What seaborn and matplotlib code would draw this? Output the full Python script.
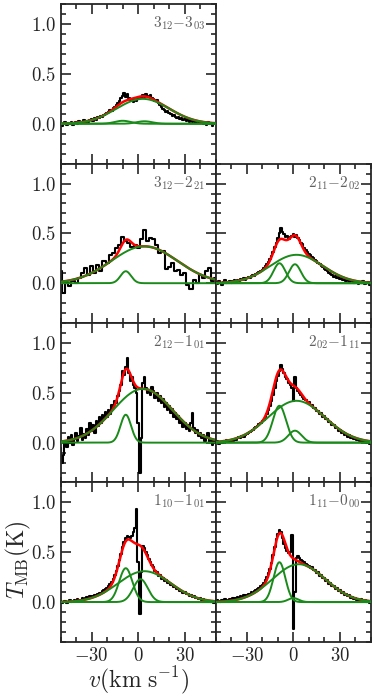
import numpy as np
import pandas as pd
import seaborn as sns
import matplotlib.pyplot as plt
from matplotlib.ticker import MultipleLocator

# Channel velocities (km/s): 1 km/s channels, the 3_12-2_21 line is binned to 2 km/s
velocity = np.arange(-50, 51, 1)
velocity_binned = np.arange(-50, 51, 2)

# Observed spectra T_MB (K), one value per channel
spec_312_303 = [0.01, -0.02, 0.00, 0.02, -0.01, 0.01, 0.00, 0.02, -0.01, 0.01,
                0.02, 0.00, 0.03, 0.01, 0.02, 0.04, 0.01, 0.03, 0.02, 0.04,
                0.05, 0.03, 0.06, 0.04, 0.07, 0.06, 0.08, 0.07, 0.09, 0.10,
                0.11, 0.12, 0.14, 0.13, 0.16, 0.17, 0.19, 0.21, 0.23, 0.26,
                0.28, 0.31, 0.27, 0.30, 0.26, 0.24, 0.25, 0.22, 0.24, 0.23,
                0.25, 0.27, 0.26, 0.29, 0.27, 0.30, 0.28, 0.27, 0.29, 0.26,
                0.25, 0.23, 0.24, 0.21, 0.19, 0.17, 0.15, 0.14, 0.12, 0.13,
                0.11, 0.10, 0.08, 0.09, 0.07, 0.06, 0.07, 0.05, 0.06, 0.04,
                0.05, 0.03, 0.05, 0.02, 0.04, 0.02, 0.03, 0.01, 0.03, 0.02,
                0.01, 0.02, 0.00, 0.01, -0.01, 0.02, 0.00, 0.01, -0.02, 0.01,
                0.00]
spec_312_221 = [0.12, -0.10, 0.00, -0.03, 0.02, 0.00, 0.05, 0.10, 0.15, 0.08,
                0.17, 0.10, 0.18, 0.12, 0.22, 0.20, 0.28, 0.30, 0.35, 0.38,
                0.46, 0.42, 0.40, 0.36, 0.38, 0.35, 0.44, 0.53, 0.42, 0.45,
                0.44, 0.38, 0.30, 0.32, 0.14, 0.16, 0.20, 0.12, 0.13, 0.08,
                0.10, -0.02, -0.06, 0.03, 0.00, 0.08, 0.05, 0.12, 0.15, 0.02,
                0.05]
spec_211_202 = [0.01, -0.01, 0.02, 0.00, -0.02, 0.01, 0.03, 0.00, 0.01, 0.02,
                0.00, 0.02, 0.03, 0.01, 0.03, 0.02, 0.04, 0.03, 0.05, 0.03,
                0.05, 0.06, 0.05, 0.07, 0.08, 0.07, 0.09, 0.10, 0.11, 0.12,
                0.13, 0.15, 0.17, 0.19, 0.21, 0.24, 0.27, 0.31, 0.36, 0.40,
                0.45, 0.50, 0.55, 0.51, 0.49, 0.46, 0.47, 0.44, 0.46, 0.47,
                0.49, 0.46, 0.48, 0.45, 0.43, 0.40, 0.39, 0.35, 0.33, 0.31,
                0.29, 0.28, 0.26, 0.25, 0.23, 0.22, 0.20, 0.19, 0.17, 0.16,
                0.14, 0.13, 0.12, 0.10, 0.09, 0.08, 0.06, 0.07, 0.05, 0.06,
                0.04, 0.05, 0.03, 0.04, 0.02, 0.03, 0.01, 0.03, 0.02, 0.00,
                0.02, 0.01, -0.01, 0.01, 0.00, 0.02, -0.01, 0.00, 0.01, -0.02,
                0.00]
spec_212_101 = [-0.05, -0.20, -0.12, 0.02, -0.04, 0.06, 0.00, 0.08, -0.02, 0.04,
                0.10, 0.02, 0.07, 0.15, 0.03, 0.09, 0.05, 0.14, 0.08, 0.20,
                0.12, 0.18, 0.10, 0.22, 0.17, 0.26, 0.20, 0.28, 0.24, 0.31,
                0.26, 0.33, 0.29, 0.38, 0.35, 0.42, 0.40, 0.47, 0.52, 0.58,
                0.72, 0.68, 0.76, 0.85, 0.70, 0.62, 0.66, 0.58, 0.55, 0.50,
                0.20, -0.30, 0.05, 0.60, 0.66, 0.55, 0.50, 0.53, 0.48, 0.56,
                0.52, 0.45, 0.50, 0.42, 0.47, 0.40, 0.44, 0.36, 0.40, 0.33,
                0.37, 0.30, 0.34, 0.26, 0.30, 0.24, 0.27, 0.20, 0.23, 0.16,
                0.20, 0.14, 0.18, 0.12, 0.20, 0.30, 0.15, 0.10, 0.13, 0.07,
                0.10, 0.05, 0.08, 0.02, 0.06, 0.10, 0.01, 0.04, -0.02, 0.03,
                0.00]
spec_202_111 = [0.00, 0.02, -0.01, 0.01, 0.00, 0.02, 0.01, 0.03, 0.02, 0.01,
                0.03, 0.02, 0.04, 0.03, 0.05, 0.06, 0.05, 0.07, 0.06, 0.08,
                0.09, 0.10, 0.11, 0.12, 0.13, 0.15, 0.16, 0.17, 0.19, 0.20,
                0.22, 0.23, 0.26, 0.29, 0.33, 0.37, 0.42, 0.48, 0.55, 0.62,
                0.67, 0.72, 0.78, 0.74, 0.70, 0.66, 0.64, 0.60, 0.58, 0.55,
                0.42, 0.66, 0.55, 0.52, 0.50, 0.48, 0.46, 0.44, 0.43, 0.41,
                0.41, 0.38, 0.38, 0.35, 0.35, 0.32, 0.32, 0.29, 0.30, 0.26,
                0.27, 0.24, 0.24, 0.21, 0.21, 0.18, 0.18, 0.15, 0.15, 0.12,
                0.13, 0.10, 0.11, 0.08, 0.09, 0.06, 0.08, 0.05, 0.06, 0.04,
                0.05, 0.03, 0.04, 0.02, 0.03, 0.01, 0.02, 0.00, 0.01, -0.01,
                0.00]
spec_110_101 = [0.01, -0.01, 0.00, 0.01, -0.01, 0.00, 0.02, 0.00, 0.01, 0.02,
                0.01, 0.03, 0.02, 0.02, 0.04, 0.03, 0.04, 0.05, 0.04, 0.06,
                0.05, 0.06, 0.07, 0.07, 0.08, 0.09, 0.09, 0.11, 0.12, 0.13,
                0.14, 0.16, 0.18, 0.20, 0.23, 0.27, 0.31, 0.36, 0.42, 0.48,
                0.55, 0.60, 0.64, 0.66, 0.65, 0.64, 0.66, 0.70, 0.74, 0.93,
                0.40, -0.12, 0.30, 0.56, 0.54, 0.50, 0.47, 0.43, 0.40, 0.37,
                0.35, 0.31, 0.30, 0.26, 0.27, 0.23, 0.24, 0.21, 0.22, 0.19,
                0.19, 0.17, 0.17, 0.15, 0.15, 0.13, 0.13, 0.11, 0.11, 0.09,
                0.10, 0.08, 0.08, 0.06, 0.07, 0.05, 0.06, 0.04, 0.04, 0.03,
                0.04, 0.02, 0.03, 0.01, 0.02, 0.01, 0.01, 0.00, 0.01, -0.01,
                0.00]
spec_111_000 = [0.00, 0.02, 0.01, 0.00, 0.02, 0.01, 0.03, 0.02, 0.01, 0.03,
                0.02, 0.04, 0.03, 0.04, 0.05, 0.04, 0.06, 0.05, 0.07, 0.06,
                0.07, 0.08, 0.08, 0.10, 0.09, 0.11, 0.12, 0.13, 0.14, 0.16,
                0.17, 0.19, 0.22, 0.25, 0.29, 0.33, 0.39, 0.47, 0.55, 0.63,
                0.68, 0.72, 0.70, 0.64, 0.58, 0.54, 0.51, 0.49, 0.50, 0.67,
                -0.27, 0.10, 0.44, 0.46, 0.44, 0.42, 0.41, 0.40, 0.38, 0.37,
                0.36, 0.34, 0.35, 0.32, 0.32, 0.29, 0.30, 0.26, 0.27, 0.24,
                0.24, 0.21, 0.22, 0.18, 0.19, 0.16, 0.16, 0.13, 0.14, 0.11,
                0.12, 0.09, 0.10, 0.07, 0.08, 0.06, 0.07, 0.04, 0.05, 0.03,
                0.04, 0.02, 0.03, 0.01, 0.03, 0.01, 0.02, 0.00, 0.01, -0.01,
                0.00]

# Fitted Gaussian components: (peak K, centre km/s, FWHM km/s)
comp_312_303 = [(0.25, 3, 40), (0.03, -10, 12), (0.025, 4, 12)]
comp_312_221 = [(0.37, 4, 50), (0.12, -8, 8)]
comp_211_202 = [(0.285, 2, 40), (0.20, -9, 9), (0.19, 1, 9)]
comp_212_101 = [(0.54, 3, 45), (0.28, -8, 8)]
comp_202_111 = [(0.42, 2, 43), (0.37, -9, 10), (0.12, 1, 10)]
comp_110_101 = [(0.34, -8, 10), (0.31, 4, 40), (0.23, 1.5, 11)]
comp_111_000 = [(0.40, -9, 9), (0.38, 3.5, 40), (0.04, 0, 8)]

labels = [r"$3_{12}{-}3_{03}$", r"$3_{12}{-}2_{21}$", r"$2_{11}{-}2_{02}$",
          r"$2_{12}{-}1_{01}$", r"$2_{02}{-}1_{11}$", r"$1_{10}{-}1_{01}$",
          r"$1_{11}{-}0_{00}$"]
spectra = [spec_312_303, spec_312_221, spec_211_202, spec_212_101,
           spec_202_111, spec_110_101, spec_111_000]
channels = [velocity, velocity_binned, velocity, velocity,
            velocity, velocity, velocity]
components = [comp_312_303, comp_312_221, comp_211_202, comp_212_101,
              comp_202_111, comp_110_101, comp_111_000]
slots = [(0, 0), (1, 0), (1, 1), (2, 0), (2, 1), (3, 0), (3, 1)]

sns.set_style("ticks")
plt.rcParams.update({
    "font.family": "serif",
    "font.serif": ["cmr10", "DejaVu Serif"],
    "mathtext.fontset": "cm",
    "axes.formatter.use_mathtext": True,
    "axes.unicode_minus": True,
    "axes.linewidth": 1.3,
})

vfine = np.linspace(-50, 50, 501)
fit_green = "#1a8a1a"


def gauss(amp, cen, fwhm):
    sig = fwhm / 2.3548
    return amp * np.exp(-(vfine - cen) ** 2 / (2 * sig ** 2))


fig, axes = plt.subplots(4, 2, figsize=(3.74, 6.97), dpi=100,
                         sharex=True, sharey=True)
fig.subplots_adjust(left=0.162, right=0.992, top=0.994, bottom=0.079,
                    wspace=0, hspace=0)
axes[0, 1].remove()

for (r, c), v, spec, comps, lab in zip(slots, channels, spectra, components, labels):
    ax = axes[r, c]
    df = pd.DataFrame({"v": v, "T": spec})
    sns.lineplot(data=df, x="v", y="T", ax=ax, color="black", lw=1.5,
                 drawstyle="steps-mid", estimator=None, zorder=1)
    curves = [gauss(*p) for p in comps]
    total = np.sum(curves, axis=0)
    sns.lineplot(x=vfine, y=total, ax=ax, color="red", lw=1.8,
                 estimator=None, zorder=2)
    for cv in curves:
        sns.lineplot(x=vfine, y=cv, ax=ax, color=fit_green, lw=1.4,
                     estimator=None, zorder=3)
    ax.text(0.93, 0.88, lab, transform=ax.transAxes, ha="right",
            va="center", fontsize=11, color="#606060")
    ax.set_xlim(-50, 50)
    ax.set_ylim(-0.4, 1.2)
    ax.xaxis.set_major_locator(MultipleLocator(30))
    ax.xaxis.set_minor_locator(MultipleLocator(10))
    ax.yaxis.set_major_locator(MultipleLocator(0.5))
    ax.yaxis.set_minor_locator(MultipleLocator(0.1))
    ax.tick_params(which="both", direction="in", top=True, right=True,
                   labelsize=13.5, width=1.2)
    ax.tick_params(which="major", length=7)
    ax.tick_params(which="minor", length=3.5)
    ax.set_xlabel("")
    ax.set_ylabel("")
    if c == 1:
        ax.tick_params(labelleft=False)
    if r < 3:
        ax.tick_params(labelbottom=False)
    for s in ax.spines.values():
        s.set_visible(True)

fig.text(0.05, 0.197, r"$T_{\rm MB}({\rm K})$", rotation=90, ha="center",
         va="center", fontsize=17)
fig.text(0.37, 0.024, r"$v({\rm km\ s^{-1}})$", ha="center", va="center",
         fontsize=17)

fig.savefig("out.png", dpi=100)
